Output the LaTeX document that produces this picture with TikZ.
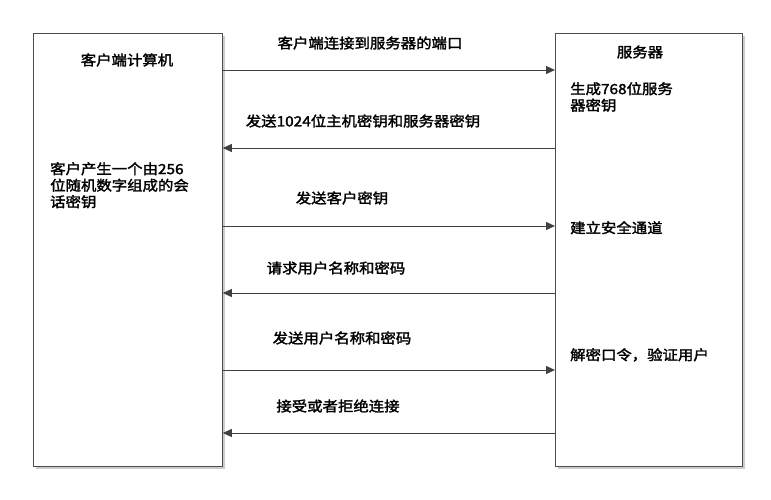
\documentclass[tikz,border=0pt]{standalone}
\usepackage{fontspec}
\newfontfamily\cjk{Noto Sans CJK SC}[FakeBold=2,FakeStretch=1.1]
\usetikzlibrary{arrows.meta}
\begin{document}
\begin{tikzpicture}
[
x=1pt,y=-1pt,
box/.style={draw=black!70,thick,fill=white},
msg/.style={-{Triangle[length=9pt,width=8pt]},black!75,thick},
txt/.style={font=\cjk\fontsize{14}{16.5}\selectfont,inner sep=0pt},
note/.style={txt,anchor=north west,align=left}
]
\useasboundingbox (0,0) rectangle (771,500);
% shadows and boxes
\fill[black!20] (36,36) rectangle (225,469);
\fill[black!20] (558,36) rectangle (745,469);
\node[box,minimum width=189pt,minimum height=433pt,inner sep=0pt,anchor=north west] (client) at (33,33) {};
\node[box,minimum width=187pt,minimum height=433pt,inner sep=0pt,anchor=north west] (server) at (555,33) {};
\node[txt] (ctitle) at (127,60) {客户端计算机};
\node[txt] (stitle) at (640,52) {服务器};
\node[note] (csess) at (50,162) {客户产生一个由256\\位随机数字组成的会\\话密钥};
\node[note] (skey) at (570,82) {生成768位服务\\器密钥};
\node[note] (chan) at (570,221) {建立安全通道};
\node[note] (auth) at (570,348) {解密口令，验证用户};
% messages
\foreach \y/\dir/\lab/\lx/\dy in {
 70/r/客户端连接到服务器的端口/370/27,
 148/l/发送1024位主机密钥和服务器密钥/363/27,
 226/r/发送客户密钥/342/28,
 293/l/请求用户名称和密码/336/25,
 370/r/发送用户名称和密码/342/32,
 433/l/接受或者拒绝连接/338/27}{
 \coordinate (cl\y) at (client.east |- 0,\y);
 \coordinate (sv\y) at (server.west |- 0,\y);
 \if r\dir
  \draw[msg] (cl\y) -- (sv\y);
 \else
  \draw[msg] (sv\y) -- (cl\y);
 \fi
 \node[txt] (lab\y) at (\lx,\y-\dy) {\lab};
}
\end{tikzpicture}
\end{document}
